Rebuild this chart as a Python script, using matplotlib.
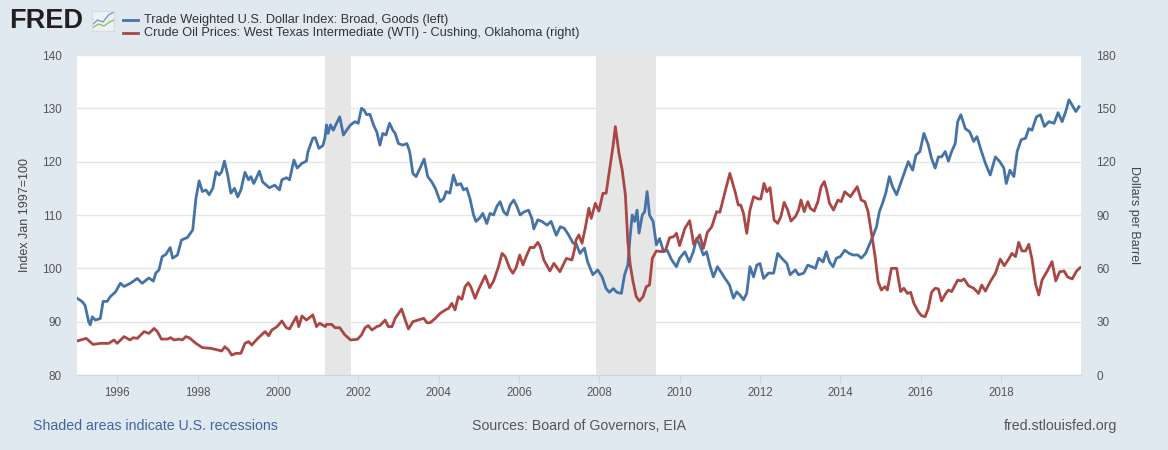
import numpy as np
import matplotlib.pyplot as plt
from matplotlib.lines import Line2D

plt.rcParams['font.family'] = ['Liberation Sans', 'DejaVu Sans']

# Trade Weighted U.S. Dollar Index: Broad, Goods (decimal year, index)
usd_dates = [1995.00, 1995.12, 1995.20, 1995.29, 1995.33, 1995.38, 1995.46, 1995.58, 1995.65, 1995.75,
             1995.83, 1995.96, 1996.08, 1996.17, 1996.33, 1996.50, 1996.62, 1996.79, 1996.90, 1996.96,
             1997.04, 1997.12, 1997.21, 1997.32, 1997.38, 1997.50, 1997.60, 1997.75, 1997.88, 1997.96,
             1998.04, 1998.12, 1998.21, 1998.29, 1998.38, 1998.46, 1998.54, 1998.60, 1998.67, 1998.75,
             1998.83, 1998.92, 1999.00, 1999.08, 1999.18, 1999.27, 1999.33, 1999.40, 1999.54, 1999.62,
             1999.79, 1999.92, 2000.04, 2000.10, 2000.21, 2000.29, 2000.40, 2000.48, 2000.60, 2000.71,
             2000.75, 2000.87, 2000.93, 2001.02, 2001.12, 2001.17,
             2001.21, 2001.25, 2001.31, 2001.38, 2001.46, 2001.54, 2001.63, 2001.71, 2001.81, 2001.92,
             2002.00, 2002.08, 2002.14, 2002.21, 2002.29, 2002.38, 2002.46, 2002.54, 2002.61, 2002.69,
             2002.78, 2002.86, 2002.92, 2003.00, 2003.11, 2003.21, 2003.28, 2003.36, 2003.44, 2003.54,
             2003.64, 2003.73, 2003.83, 2003.92, 2004.04, 2004.13, 2004.19, 2004.28, 2004.37, 2004.45,
             2004.55, 2004.62, 2004.70, 2004.78, 2004.87, 2004.93, 2005.02, 2005.10, 2005.20, 2005.28,
             2005.37, 2005.45, 2005.53, 2005.62, 2005.70, 2005.78, 2005.87, 2005.95, 2006.03, 2006.13,
             2006.24, 2006.32, 2006.37, 2006.47, 2006.57, 2006.70, 2006.80, 2006.93, 2007.03, 2007.13,
             2007.24, 2007.35,
             2007.42, 2007.52, 2007.63, 2007.71, 2007.84, 2007.96, 2008.07, 2008.17, 2008.25, 2008.35,
             2008.44, 2008.55, 2008.63, 2008.71, 2008.77, 2008.82, 2008.88, 2008.94, 2008.99, 2009.07,
             2009.13, 2009.19, 2009.25, 2009.34, 2009.42, 2009.50, 2009.60, 2009.69, 2009.80, 2009.92,
             2010.00, 2010.13, 2010.24, 2010.34, 2010.42, 2010.50, 2010.59, 2010.67, 2010.75, 2010.84,
             2010.94, 2011.02, 2011.13, 2011.24, 2011.34, 2011.42, 2011.50, 2011.59, 2011.67, 2011.75,
             2011.84, 2011.92, 2012.00, 2012.09, 2012.21, 2012.34, 2012.44, 2012.54, 2012.67, 2012.75,
             2012.88, 2012.96, 2013.09, 2013.19, 2013.29, 2013.38, 2013.46, 2013.57,
             2013.65, 2013.73, 2013.82, 2013.90, 2014.00, 2014.11, 2014.22, 2014.32, 2014.44, 2014.52,
             2014.63, 2014.72, 2014.82, 2014.90, 2014.97, 2015.05, 2015.13, 2015.22, 2015.30, 2015.40,
             2015.47, 2015.57, 2015.69, 2015.80, 2015.88, 2015.98, 2016.08, 2016.19, 2016.27, 2016.36,
             2016.44, 2016.52, 2016.61, 2016.69, 2016.77, 2016.86, 2016.92, 2017.00, 2017.11, 2017.22,
             2017.32, 2017.40, 2017.50, 2017.61, 2017.73, 2017.86, 2017.97, 2018.07, 2018.13, 2018.22,
             2018.32, 2018.40, 2018.50, 2018.61, 2018.69, 2018.77, 2018.88, 2018.98, 2019.08, 2019.19,
             2019.32, 2019.42, 2019.52, 2019.61, 2019.69, 2019.77, 2019.86, 2019.94]
usd_index = [94.4, 93.8, 93.1, 90.0, 89.4, 90.9, 90.3, 90.6, 93.8, 93.8,
             94.7, 95.6, 97.2, 96.6, 97.2, 98.1, 97.2, 98.2, 97.6, 99.1,
             99.7, 102.2, 102.6, 103.9, 101.9, 102.5, 105.3, 105.8, 107.2, 113.1,
             116.4, 114.4, 114.7, 113.8, 115.0, 118.1, 117.5, 118.1, 120.1, 117.5,
             114.1, 115.0, 113.4, 114.7, 118.0, 116.6, 117.2, 115.9, 118.2, 116.2,
             115.1, 115.6, 114.7, 116.6, 117.0, 116.6, 120.3, 118.8, 119.7, 120.1,
             121.9, 124.4, 124.5, 122.5, 123.0, 124.4,
             126.9, 125.3, 126.9, 125.9, 127.2, 128.4, 125.0, 125.9, 126.9, 127.5,
             127.2, 130.0, 129.7, 128.8, 128.9, 126.9, 125.6, 123.1, 125.3, 125.0,
             127.2, 125.9, 125.3, 123.4, 123.1, 123.4, 121.9, 117.8, 117.2, 118.8,
             120.5, 117.2, 116.2, 115.0, 112.5, 113.1, 114.4, 114.1, 117.5, 115.6,
             115.9, 114.7, 115.0, 113.1, 110.0, 108.8, 109.4, 110.3, 108.4, 110.3,
             110.0, 111.6, 112.5, 110.6, 110.0, 111.9, 112.8, 111.6, 110.0, 110.6,
             110.9, 109.4, 107.4, 109.1, 108.8, 108.1, 108.8, 106.2, 107.8, 107.5,
             106.2, 104.7,
             104.7, 102.8, 103.8, 101.2, 98.8, 99.7, 98.4, 96.2, 95.5, 96.2,
             95.5, 95.3, 98.8, 100.6, 106.2, 110.0, 108.8, 110.9, 106.6, 110.0,
             110.6, 114.4, 110.0, 108.8, 104.4, 105.6, 103.1, 103.4, 101.6, 100.3,
             101.9, 103.1, 101.2, 103.1, 105.6, 104.4, 102.5, 103.1, 100.6, 98.4,
             100.3, 99.4, 98.1, 96.9, 94.4, 95.6, 95.0, 94.1, 95.3, 100.3,
             98.4, 100.6, 100.9, 98.1, 99.1, 99.1, 102.8, 101.9, 100.9, 98.8,
             99.7, 98.8, 99.1, 100.6, 100.3, 100.0, 101.9, 101.2,
             103.1, 101.2, 100.3, 101.9, 102.2, 103.4, 102.8, 102.5, 102.5, 101.9,
             102.8, 104.4, 106.2, 107.8, 110.6, 112.2, 114.1, 117.2, 115.3, 113.8,
             115.3, 117.5, 120.0, 118.4, 121.2, 121.9, 125.3, 123.1, 120.6, 118.8,
             120.9, 120.9, 121.9, 120.1, 121.9, 123.4, 127.5, 128.8, 126.2, 125.6,
             123.8, 124.7, 122.2, 119.7, 117.5, 120.9, 120.0, 118.8, 115.9, 118.4,
             117.2, 121.9, 124.1, 124.4, 126.2, 125.9, 128.4, 128.8, 126.6, 127.5,
             127.2, 129.2, 127.5, 129.4, 131.6, 130.6, 129.4, 130.3]

# Crude Oil Prices: WTI - Cushing, Oklahoma (decimal year, dollars per barrel)
wti_dates = [1995.00, 1995.23, 1995.40, 1995.58, 1995.79, 1995.92, 1996.00, 1996.17, 1996.32, 1996.40,
             1996.50, 1996.67, 1996.79, 1996.92, 1997.00, 1997.10, 1997.25, 1997.33, 1997.42, 1997.54,
             1997.62, 1997.71, 1997.79, 1997.96, 1998.12, 1998.33, 1998.50, 1998.60, 1998.68, 1998.77,
             1998.85, 1998.96, 1999.08, 1999.18, 1999.27, 1999.35, 1999.50, 1999.68, 1999.77, 1999.85,
             1999.98, 2000.10, 2000.21, 2000.29, 2000.46, 2000.52, 2000.60, 2000.71, 2000.87, 2000.96,
             2001.04, 2001.18,
             2001.21, 2001.34, 2001.42, 2001.54, 2001.67, 2001.81, 2001.98, 2002.08, 2002.17, 2002.25,
             2002.34, 2002.46, 2002.54, 2002.67, 2002.75, 2002.84, 2002.92, 2003.08, 2003.17, 2003.25,
             2003.36, 2003.54, 2003.63, 2003.71, 2003.79, 2003.92, 2004.04, 2004.17, 2004.25, 2004.33,
             2004.41, 2004.49, 2004.58, 2004.66, 2004.74, 2004.80, 2004.91, 2004.99, 2005.16, 2005.27,
             2005.37, 2005.49, 2005.58, 2005.66, 2005.77, 2005.85, 2005.93, 2006.02, 2006.10, 2006.18,
             2006.28, 2006.37, 2006.47, 2006.53, 2006.62, 2006.77, 2006.87, 2007.02, 2007.18, 2007.32,
             2007.39,
             2007.42, 2007.49, 2007.57, 2007.65, 2007.74, 2007.80, 2007.90, 2007.99, 2008.09, 2008.17,
             2008.25, 2008.34, 2008.40, 2008.49, 2008.57, 2008.65, 2008.71, 2008.77, 2008.84, 2008.92,
             2009.00, 2009.09, 2009.17, 2009.25, 2009.32, 2009.42, 2009.55, 2009.65, 2009.75, 2009.85,
             2009.92, 2010.00, 2010.13, 2010.25, 2010.35, 2010.42, 2010.50, 2010.59, 2010.69, 2010.80,
             2010.92, 2011.00, 2011.13, 2011.25, 2011.38, 2011.46, 2011.52, 2011.59, 2011.67, 2011.75,
             2011.84, 2011.96, 2012.02, 2012.10, 2012.17, 2012.25, 2012.35, 2012.44, 2012.52, 2012.60,
             2012.69, 2012.77, 2012.88, 2012.96, 2013.02, 2013.10, 2013.19, 2013.25, 2013.35, 2013.44,
             2013.52, 2013.60,
             2013.66, 2013.73, 2013.83, 2013.94, 2014.02, 2014.11, 2014.25, 2014.42, 2014.52, 2014.61,
             2014.69, 2014.77, 2014.86, 2014.94, 2015.02, 2015.11, 2015.17, 2015.27, 2015.40, 2015.50,
             2015.58, 2015.67, 2015.75, 2015.83, 2015.94, 2016.02, 2016.11, 2016.19, 2016.27, 2016.36,
             2016.44, 2016.52, 2016.61, 2016.69, 2016.77, 2016.92, 2017.00, 2017.08, 2017.19, 2017.32,
             2017.44, 2017.52, 2017.61, 2017.73, 2017.86, 2017.98, 2018.08, 2018.19, 2018.27, 2018.36,
             2018.44, 2018.52, 2018.61, 2018.69, 2018.77, 2018.86, 2018.94, 2019.02, 2019.15, 2019.27,
             2019.36, 2019.46, 2019.57, 2019.65, 2019.77, 2019.88, 2019.97]
wti_price = [19.1, 20.6, 17.2, 17.8, 17.8, 19.7, 17.8, 21.6, 19.7, 21.0,
             20.6, 24.4, 23.4, 26.2, 24.4, 20.2, 20.2, 21.0, 19.7, 20.2,
             19.7, 21.6, 21.0, 17.8, 15.4, 15.0, 14.1, 13.5, 15.9, 14.1,
             11.2, 12.2, 12.2, 17.8, 18.8, 16.9, 20.6, 24.4, 22.1, 25.3,
             27.2, 30.4, 26.6, 25.9, 32.8, 27.2, 33.2, 30.9, 33.8, 27.2,
             29.1, 27.2,
             28.5, 28.5, 26.6, 26.6, 22.5, 19.7, 20.1, 22.5, 26.6, 27.8,
             25.3, 27.2, 27.8, 30.9, 27.2, 27.2, 31.9, 37.1, 30.9, 25.9,
             30.0, 31.3, 31.9, 29.4, 29.4, 31.9, 34.7, 36.6, 37.5, 40.3,
             36.6, 44.1, 42.6, 49.7, 51.9, 49.7, 43.1, 47.8, 55.9, 49.1,
             52.9, 60.9, 68.4, 66.6, 60.0, 57.2, 60.4, 67.5, 61.9, 66.6,
             71.8, 71.6, 74.6, 72.2, 64.7, 58.5, 62.8, 58.1, 65.6, 64.7,
             71.2,
             75.9, 78.8, 74.1, 82.5, 93.8, 88.1, 96.6, 92.2, 102.2, 102.2,
             114.4, 128.4, 139.7, 124.7, 115.3, 101.2, 75.0, 61.9, 52.5, 44.1,
             41.6, 44.1, 49.7, 50.6, 65.6, 69.8, 69.4, 70.3, 77.2, 77.8,
             79.7, 72.8, 82.5, 86.8, 73.5, 75.9, 78.8, 71.2, 80.2, 83.4,
             91.9, 91.5, 103.1, 113.4, 103.1, 95.6, 95.6, 90.9, 79.7, 92.8,
             100.3, 99.0, 99.0, 107.8, 103.1, 105.4, 87.2, 85.3, 89.1, 97.1,
             92.8, 86.6, 89.1, 92.8, 98.4, 91.9, 97.5, 93.8, 92.2, 97.5,
             105.9, 108.8,
             104.0, 96.6, 92.8, 98.4, 97.5, 103.1, 100.3, 105.9, 98.4, 97.5,
             91.9, 80.6, 67.5, 52.5, 47.8, 49.7, 47.8, 60.0, 60.0, 46.9,
             48.8, 45.9, 46.5, 40.3, 35.6, 33.4, 32.8, 37.5, 46.5, 48.8,
             48.4, 41.6, 45.4, 47.8, 46.9, 53.4, 52.9, 54.0, 50.2, 48.8,
             45.9, 50.6, 47.2, 52.5, 57.2, 65.2, 61.5, 65.2, 68.4, 66.6,
             74.6, 69.8, 69.8, 73.5, 65.2, 51.0, 45.0, 53.4, 58.5, 63.8,
             52.9, 58.1, 58.5, 55.3, 54.0, 58.5, 60.4]

# NBER recessions
recessions = [(2001.17, 2001.83), (2007.92, 2009.42)]
year_ticks = list(range(1996, 2019, 2))

BG = '#e1e9f0'
BLUE = '#4572a7'
RED = '#aa4643'
TXT = '#555555'

fig = plt.figure(figsize=(11.68, 4.5), dpi=100, facecolor=BG)
ax = fig.add_axes([77 / 1168, 75 / 450, 1004 / 1168, 320 / 450])
ax.set_facecolor('white')
ax2 = ax.twinx()

for start, end in recessions:
    ax.axvspan(start, end, color='#e6e6e6', lw=0, zorder=0)

ax.plot(usd_dates, usd_index, color=BLUE, lw=2, zorder=3)
ax2.plot(wti_dates, wti_price, color=RED, lw=2, zorder=3)

ax.set_xlim(1995.0, 2019.99)
ax.set_ylim(80, 140)
ax2.set_ylim(0, 180)
ax.set_yticks(range(80, 141, 10))
ax2.set_yticks(range(0, 181, 30))
ax.set_xticks(year_ticks)
ax.set_xticklabels([str(y) for y in year_ticks])

ax.grid(axis='y', color='#e6e6e6', lw=1, zorder=1)
ax.set_axisbelow(True)

for a in (ax, ax2):
    for s in ('top', 'left', 'right'):
        a.spines[s].set_visible(False)
    a.spines['bottom'].set_color('#ccd6eb')
ax.tick_params(axis='y', length=0, pad=11, labelsize=8.5, labelcolor=TXT)
ax2.tick_params(axis='y', length=0, pad=11, labelsize=8.5, labelcolor=TXT)
ax.tick_params(axis='x', length=6, color='#ccd6eb', pad=3, labelsize=8.3, labelcolor=TXT)

ax.set_ylabel('Index Jan 1997=100', color='#444444', fontsize=9, labelpad=8)
ax2.set_ylabel('Dollars per Barrel', color='#444444', fontsize=9, rotation=270,
               labelpad=17)

# header: logo and legend
fig.text(9 / 1168, 1 - 21 / 450, 'FRED', fontsize=19.5, fontweight='bold',
         color='#231f20', va='center', ha='left')
icon = fig.add_axes([92 / 1168, 1 - 31 / 450, 22 / 1168, 20 / 450])
icon.set_facecolor('#eef1f4')
icon.plot([0, 0.25, 0.5, 0.75, 1.0], [0.3, 0.55, 0.45, 0.8, 0.95], color='#7a9cc6', lw=1)
icon.plot([0, 0.3, 0.55, 0.8, 1.0], [0.15, 0.35, 0.25, 0.45, 0.55], color='#8cc06e', lw=1)
icon.set_xlim(0, 1)
icon.set_ylim(0, 1)
icon.set_xticks([])
icon.set_yticks([])
for s in icon.spines.values():
    s.set_color('#d5dbe1')

fig.add_artist(Line2D([123 / 1168, 138 / 1168], [1 - 20 / 450] * 2, color=BLUE, lw=2))
fig.add_artist(Line2D([123 / 1168, 138 / 1168], [1 - 33 / 450] * 2, color=RED, lw=2))
fig.text(144 / 1168, 1 - 19.5 / 450, 'Trade Weighted U.S. Dollar Index: Broad, Goods (left)',
         fontsize=9.2, color='#333333', va='center', ha='left')
fig.text(144 / 1168, 1 - 33 / 450,
         'Crude Oil Prices: West Texas Intermediate (WTI) - Cushing, Oklahoma (right)',
         fontsize=9.2, color='#333333', va='center', ha='left')

# footer
fig.text(33 / 1168, 1 - 426 / 450, 'Shaded areas indicate U.S. recessions', fontsize=10.2,
         color='#3e66a0', va='center', ha='left')
fig.text(579 / 1168, 1 - 426 / 450, 'Sources: Board of Governors, EIA', fontsize=10.2,
         color=TXT, va='center', ha='center')
fig.text(1117 / 1168, 1 - 426 / 450, 'fred.stlouisfed.org', fontsize=10.2,
         color=TXT, va='center', ha='right')

fig.savefig('out.png', dpi=100, facecolor=BG)
